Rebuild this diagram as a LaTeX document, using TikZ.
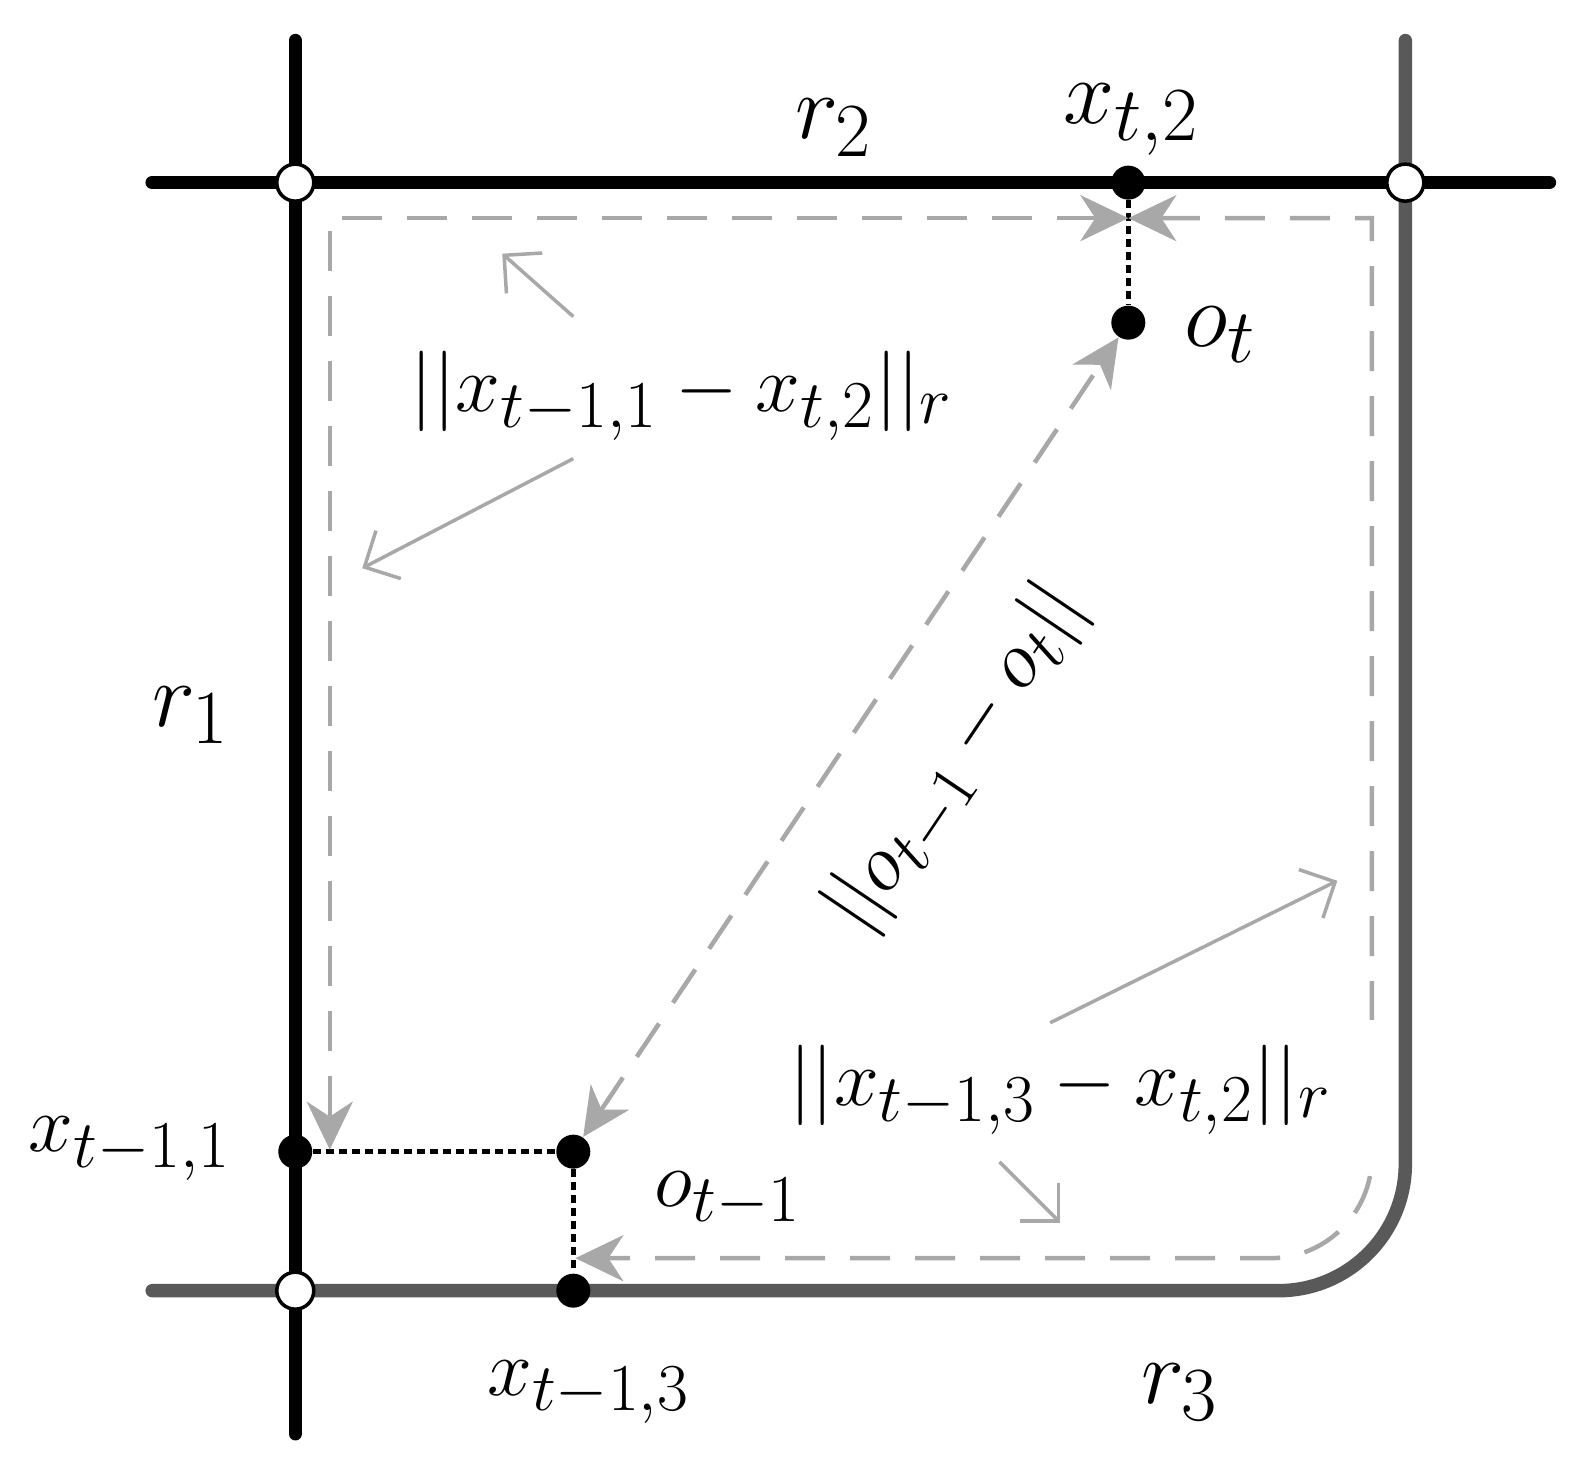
\documentclass[tikz,border=0pt]{standalone}
\usetikzlibrary{arrows.meta}
\definecolor{roadgray}{HTML}{595959}
\definecolor{pathgray}{HTML}{A8A8A8}
\tikzset{
  road/.style={line width=1.35mm, line cap=round},
  sideroad/.style={road, draw=roadgray},
  junction/.style={circle, draw, line width=0.35mm, fill=white, inner sep=0pt, minimum size=3.7mm},
  point/.style={circle, fill=black, inner sep=0pt, minimum size=3.4mm},
  proj/.style={line width=0.45mm, dash pattern=on 0.8mm off 0.5mm},
  gtip/.tip={Stealth[length=4.8mm,width=4.6mm,inset=1.5mm,fill=pathgray]},
  dist/.style={draw=pathgray, line width=0.45mm, dash pattern=on 4mm off 2.5mm, {gtip}-{gtip}},
  pointer/.style={draw=pathgray, line width=0.35mm, -{Straight Barb[length=2.7mm,width=5.4mm]}},
  lbl/.style={font=\Huge, scale=1.05, inner sep=1mm},
  sublbl/.style={lbl, scale=0.92/1.05}
}
\begin{document}
\begin{tikzpicture}[x=0.10145mm,y=-0.10145mm]
\useasboundingbox (0,0) rectangle (1567,1462);

% Roads
\draw[sideroad] (150,1272) -- (1260,1272) .. controls (1329,1272) and (1385,1216) .. (1385,1147) -- (1385,40);
\draw[road] (291,40) -- (291,1413);
\draw[road] (150,180) -- (1527,180);

% Junctions
\node[junction] (j1) at (291,180) {};
\node[junction] (j2) at (1385,180) {};
\node[junction] (j3) at (291,1272) {};

% Points
\node[point] (xt2) at (1112,180) {};
\node[point] (ot) at (1112,318) {};
\node[point] (xt11) at (291,1135) {};
\node[point] (ot1) at (565,1135) {};
\node[point] (xt13) at (565,1272) {};

% Projections
\draw[proj] (xt2) -- (ot);
\draw[proj] (xt11) -- (ot1);
\draw[proj] (ot1) -- (xt13);

% Distances
\coordinate (m2) at (1112,215);
\coordinate (m11) at (325,1133);
\coordinate (m13) at (567,1240);
\draw[dist] (m2) -- (325,215) -- (m11);
\draw[dist] (m2) -- (1352,215) -- (1352,1140) .. controls (1352,1195) and (1307,1240) .. (1252,1240) -- (m13);
\draw[dist] (ot1) -- (ot);

% Labels
\node[lbl] (r1) at (188,705) {$r_1$};
\node[lbl] (r2) at (822,126) {$r_2$};
\node[lbl] (r3) at (1163,1372) {$r_3$};
\node[lbl] (lxt2) at (1115,118) {$x_{t,2}$};
\node[lbl] (lot) at (1203,330) {$o_t$};
\node[sublbl] (lxt11) at (128,1132) {$x_{t-1,1}$};
\node[sublbl] (lot1) at (717,1182) {$o_{t-1}$};
\node[sublbl] (lxt13) at (580,1372) {$x_{t-1,3}$};
\node[sublbl] (d1) at (672,390) {$||x_{t-1,1}-x_{t,2}||_r$};
\node[sublbl, rotate=56] (d2) at (943,748) {$||o_{t-1}-o_t||$};
\node[sublbl, fill=white, minimum width=6.4cm/0.92, minimum height=1.4cm/0.92] (d3) at (1045,1074) {$||x_{t-1,3}-x_{t,2}||_r$};

% Pointers
\coordinate (p1a) at (565,312);
\coordinate (p1b) at (495,250);
\coordinate (p2a) at (565,452);
\coordinate (p2b) at (357,560);
\coordinate (p3a) at (1035,1008);
\coordinate (p3b) at (1318,868);
\coordinate (p4a) at (985,1145);
\coordinate (p4b) at (1045,1205);
\draw[pointer] (p1a) -- (p1b);
\draw[pointer] (p2a) -- (p2b);
\draw[pointer] (p3a) -- (p3b);
\draw[pointer] (p4a) -- (p4b);
\end{tikzpicture}
\end{document}
